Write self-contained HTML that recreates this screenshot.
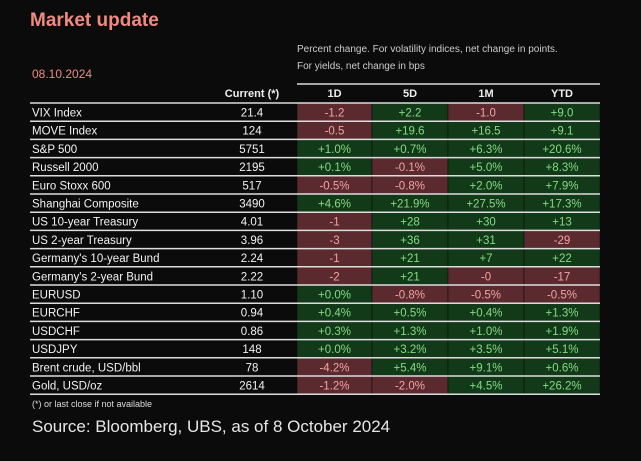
<!DOCTYPE html>
<html><head><meta charset="utf-8"><style>
body{margin:0;background:#0b0b0b;width:641px;height:461px;overflow:hidden;font-family:"Liberation Sans",sans-serif;color:#eee;position:relative}
.a{position:absolute;white-space:nowrap}
</style></head><body>
<div class="a" style="left:30px;top:10px;font-size:19px;font-weight:bold;color:#f08a80">Market update</div>
<div class="a" style="left:297px;top:41px;font-size:10px;color:#ccc;line-height:17px">Percent change. For volatility indices, net change in points.<br>For yields, net change in bps</div>
<div class="a" style="left:32px;top:67px;font-size:12px;color:#f08a80">08.10.2024</div>
<svg id="t" class="a" style="left:0;top:0" width="641" height="461"></svg>
<div class="a" style="left:32px;top:399px;font-size:9px;color:#ddd">(*) or last close if not available</div>
<div class="a" style="left:32px;top:417px;font-size:17px;color:#e6e6e6">Source: Bloomberg, UBS, as of 8 October 2024</div>
<script>
const names=["VIX Index","MOVE Index","S&P 500","Russell 2000","Euro Stoxx 600","Shanghai Composite","US 10-year Treasury","US 2-year Treasury","Germany's 10-year Bund","Germany's 2-year Bund","EURUSD","EURCHF","USDCHF","USDJPY","Brent crude, USD/bbl","Gold,  USD/oz"];
const current=["21.4","124","5751","2195","517","3490","4.01","3.96","2.24","2.22","1.10","0.94","0.86","148","78","2614"];
const d1=["-1.2","-0.5","+1.0%","+0.1%","-0.5%","+4.6%","-1","-3","-1","-2","+0.0%","+0.4%","+0.3%","+0.0%","-4.2%","-1.2%"];
const d5=["+2.2","+19.6","+0.7%","-0.1%","-0.8%","+21.9%","+28","+36","+21","+21","-0.8%","+0.5%","+1.3%","+3.2%","+5.4%","-2.0%"];
const m1=["-1.0","+16.5","+6.3%","+5.0%","+2.0%","+27.5%","+30","+31","+7","-0","-0.5%","+0.4%","+1.0%","+3.5%","+9.1%","+4.5%"];
const ytd=["+9.0","+9.1","+20.6%","+8.3%","+7.9%","+17.3%","+13","-29","+22","-17","-0.5%","+1.3%","+1.9%","+5.1%","+0.6%","+26.2%"];
const heads=["1D","5D","1M","YTD"];
const svg=document.getElementById('t');const NS="http://www.w3.org/2000/svg";
function el(tag,at,txt){const e=document.createElementNS(NS,tag);for(const k in at)e.setAttribute(k,at[k]);if(txt!=null)e.textContent=txt;svg.appendChild(e);return e;}
const top0=103,rh=18.2,cx=[297,372,448,524,600];
const cols=[d1,d5,m1,ytd];
let h=el('text',{x:252,y:97,'text-anchor':'middle','font-size':11,'font-weight':'bold',fill:'#eee'},"Current (*)");


heads.forEach((s,j)=>{const t=el('text',{x:(cx[j]+cx[j+1])/2,y:97,'text-anchor':'middle','font-size':11,'font-weight':'bold',fill:'#eee'},s);

});
el('line',{x1:297,x2:600,y1:84,y2:84,stroke:'#ddd','stroke-width':1.5});
names.forEach((n,i)=>{const y=top0+i*rh;
cols.forEach((c,j)=>{const neg=c[i].trim().startsWith('-');
const r=el('rect',{x:cx[j],y:y,width:cx[j+1]-cx[j],height:rh,fill:neg?'#5a2a2f':'#123a19',stroke:'#0b0b0b','stroke-width':0.6});


el('text',{x:(cx[j]+cx[j+1])/2,y:y+13.5,'text-anchor':'middle','font-size':11.5,fill:neg?'#f4a3a3':'#86d986'},c[i]);});
const lt=el('text',{x:32,y:y+13.5,'font-size':11.5,fill:'#f2f2f2'},n);


el('text',{x:252,y:y+13.5,'text-anchor':'middle','font-size':11.5,fill:'#f2f2f2'},current[i]);
el('line',{x1:30,x2:600,y1:y,y2:y,stroke:'#ddd','stroke-width':1.5});});
el('line',{x1:30,x2:600,y1:top0+names.length*rh,y2:top0+names.length*rh,stroke:'#ddd','stroke-width':1.5});
</script>
</body></html>
